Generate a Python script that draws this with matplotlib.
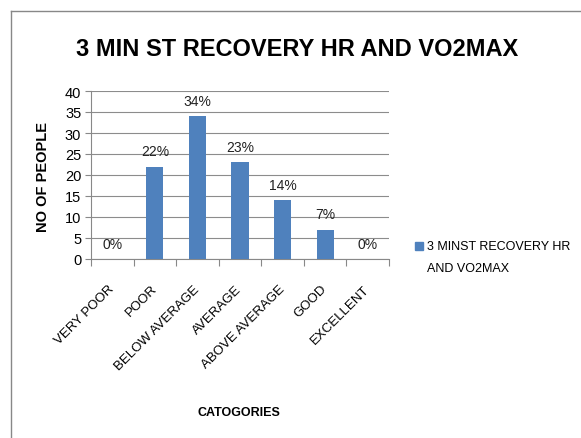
import matplotlib.pyplot as plt
from matplotlib.lines import Line2D
from matplotlib.patches import Rectangle

categories = ["VERY POOR", "POOR", "BELOW AVERAGE", "AVERAGE",
              "ABOVE AVERAGE", "GOOD", "EXCELLENT"]
people = [0, 22, 34, 23, 14, 7, 0]
pct_labels = ["0%", "22%", "34%", "23%", "14%", "7%", "0%"]
yticks = [0, 5, 10, 15, 20, 25, 30, 35, 40]

plt.rcParams['font.family'] = ['Liberation Sans', 'DejaVu Sans']

W, H = 581, 439
fig = plt.figure(figsize=(W / 100, H / 100), dpi=100)

# plot area in pixels: x 91..389, y 92..260
ax = fig.add_axes([91 / W, 1 - 260 / H, (389 - 91) / W, (260 - 92) / H])
x = list(range(len(categories)))
bar_color = "#4f81bd"
ax.bar(x, people, width=0.4, color=bar_color, zorder=3)

for xi, v, lab in zip(x, people, pct_labels):
    ax.text(xi, v + 2.0, lab, ha="center", va="bottom", fontsize=10, color="#222222")

ax.set_xlim(-0.5, len(categories) - 0.5)
ax.set_ylim(0, 40)
ax.set_yticks(yticks)
ax.tick_params(axis="y", labelsize=10.5, length=4, width=0.8, color="#888888", pad=3)
ax.yaxis.grid(True, color="#8c8c8c", linewidth=0.8, zorder=0)

ax.set_xticks([i - 0.5 for i in range(len(categories) + 1)], minor=False)
ax.set_xticklabels([])
ax.set_xticks(x, minor=True)
ax.set_xticklabels(categories, minor=True, rotation=45, ha="right",
                   va="center", rotation_mode="anchor", fontsize=9.5)
ax.tick_params(axis="x", which="major", length=5, width=0.8, color="#888888")
ax.tick_params(axis="x", which="minor", length=0, pad=20)

for s in ["top", "right"]:
    ax.spines[s].set_visible(False)
ax.spines["left"].set_color("#888888")
ax.spines["bottom"].set_color("#888888")
ax.spines["left"].set_linewidth(0.8)
ax.spines["bottom"].set_linewidth(0.8)

fig.text(297 / W, 1 - 50 / H, "3 MIN ST RECOVERY HR AND VO2MAX",
         ha="center", va="center", fontsize=17, fontweight="bold")
fig.text(43 / W, 1 - 177 / H, "NO OF PEOPLE", rotation=90, ha="center",
         va="center", fontsize=10.5, fontweight="bold")
fig.text(239 / W, 1 - 413 / H, "CATOGORIES", ha="center", va="center",
         fontsize=9, fontweight="bold")

# legend
fig.patches.append(Rectangle((415 / W, 1 - 251 / H), 8 / W, 8 / H,
                             transform=fig.transFigure, color=bar_color))
fig.text(427 / W, 1 - 247 / H, "3 MINST RECOVERY HR", ha="left", va="center",
         fontsize=9)
fig.text(427 / W, 1 - 269 / H, "AND VO2MAX", ha="left", va="center",
         fontsize=9)

# chart frame
fig.lines.append(Line2D([10.5 / W, 10.5 / W], [0, 1 - 12 / H],
                        transform=fig.transFigure, color="#888888", lw=1))
fig.lines.append(Line2D([10.5 / W, 1], [1 - 12 / H, 1 - 12 / H],
                        transform=fig.transFigure, color="#888888", lw=1))

fig.savefig("out.png", dpi=100)
